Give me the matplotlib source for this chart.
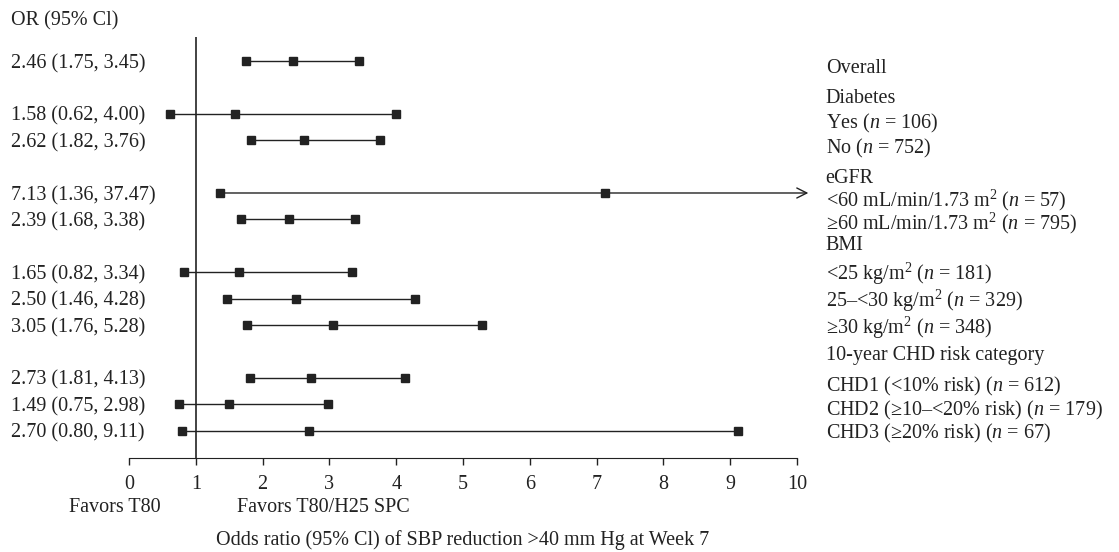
import matplotlib
matplotlib.use("Agg")
import matplotlib.pyplot as plt

plt.rcParams['font.family'] = ['Liberation Serif', 'DejaVu Serif']
plt.rcParams['mathtext.fontset'] = 'custom'
plt.rcParams['mathtext.rm'] = 'Liberation Serif'
plt.rcParams['mathtext.it'] = 'Liberation Serif:italic'

# odds ratios and 95% CI, top to bottom
odds = [2.46, 1.58, 2.62, 7.13, 2.39, 1.65, 2.50, 3.05, 2.73, 1.49, 2.70]
lower = [1.75, 0.62, 1.82, 1.36, 1.68, 0.82, 1.46, 1.76, 1.81, 0.75, 0.80]
upper = [3.45, 4.00, 3.76, 37.47, 3.38, 3.34, 4.28, 5.28, 4.13, 2.98, 9.11]
# group membership of each row (a blank row is left between groups)
groups = [0, 1, 1, 2, 2, 3, 3, 3, 4, 4, 4]

group_titles = ["Overall", "Diabetes", "eGFR", "BMI", "10-year CHD risk category"]
subgroups = [
    [],
    ["Yes ($n$ = 106)", "No ($n$ = 752)"],
    ["<60 mL/min/1.73 m$^2$ ($n$ = 57)", "\u226560 mL/min/1.73 m$^2$ ($n$ = 795)"],
    ["<25 kg/m$^2$ ($n$ = 181)", "25\u2013<30 kg/m$^2$ ($n$ = 329)", "\u226530 kg/m$^2$ ($n$ = 348)"],
    ["CHD1 (<10% risk) ($n$ = 612)", "CHD2 (\u226510\u2013<20% risk) ($n$ = 179)", "CHD3 (\u226520% risk) ($n$ = 67)"],
]

xmax = 10
rows = [i + g for i, g in enumerate(groups)]

fig = plt.figure(figsize=(11.19, 5.52), dpi=100)
ax = fig.add_axes([129 / 1119, 1 - 458 / 552, 668 / 1119, 421 / 552])
ax.set_xlim(0, xmax)
ax.set_ylim(15.04, -0.91)

col = '#222222'
fs = 14.5
for y, o, lo, hi in zip(rows, odds, lower, upper):
    if hi > xmax:
        ax.annotate("", xy=(xmax + 0.17, y), xytext=(lo, y),
                    arrowprops=dict(arrowstyle='->', color=col, lw=1, mutation_scale=18,
                                    shrinkA=0, shrinkB=0),
                    annotation_clip=False)
        ax.plot([lo, o], [y, y], ls='none', marker='s', ms=6, color=col)
    else:
        ax.plot([lo, o, hi], [y, y, y], '-', marker='s', ms=6, color=col, lw=1)
    ax.text(-1.77, y, f"{o:.2f} ({lo:.2f}, {hi:.2f})",
            ha='left', va='center_baseline', fontsize=fs, color=col)

ax.axvline(1, color=col, lw=1.2)

# right-hand labels
rlab_x = 10.43
ax.text(rlab_x, 0.19, group_titles[0], ha='left', va='center_baseline', fontsize=fs, color=col)
title_y = [None, 1.33, 4.36, 6.9, 11.06]
sub_y = [[], [2.23, 3.18], [5.15, 6.02], [7.92, 8.94, 9.96], [12.2, 13.1, 14.0]]
for g in range(1, len(group_titles)):
    ax.text(rlab_x, title_y[g], group_titles[g], ha='left', va='center_baseline',
            fontsize=fs, color=col)
    for s, yy in zip(subgroups[g], sub_y[g]):
        ax.text(rlab_x, yy, s, ha='left', va='center_baseline', fontsize=fs, color=col)

ax.text(-1.77, -1.63, "OR (95% Cl)", ha='left', va='center_baseline', fontsize=fs, color=col,
        clip_on=False)

for s in ['top', 'right', 'left']:
    ax.spines[s].set_visible(False)
ax.spines['bottom'].set_color(col)
ax.set_yticks([])
ax.set_xticks(range(0, xmax + 1))
ax.tick_params(axis='x', direction='out', length=5, width=1, colors=col, labelsize=fs, pad=7)

ax.text(0.48, 16.82, "Favors T80", ha='right', va='center_baseline', fontsize=fs, color=col)
ax.text(1.62, 16.82, "Favors T80/H25 SPC", ha='left', va='center_baseline', fontsize=fs, color=col)
ax.text(5.0, 18.07, "Odds ratio (95% Cl) of SBP reduction >40 mm Hg at Week 7",
        ha='center', va='center_baseline', fontsize=fs, color=col)

fig.savefig("out.png", dpi=100)
